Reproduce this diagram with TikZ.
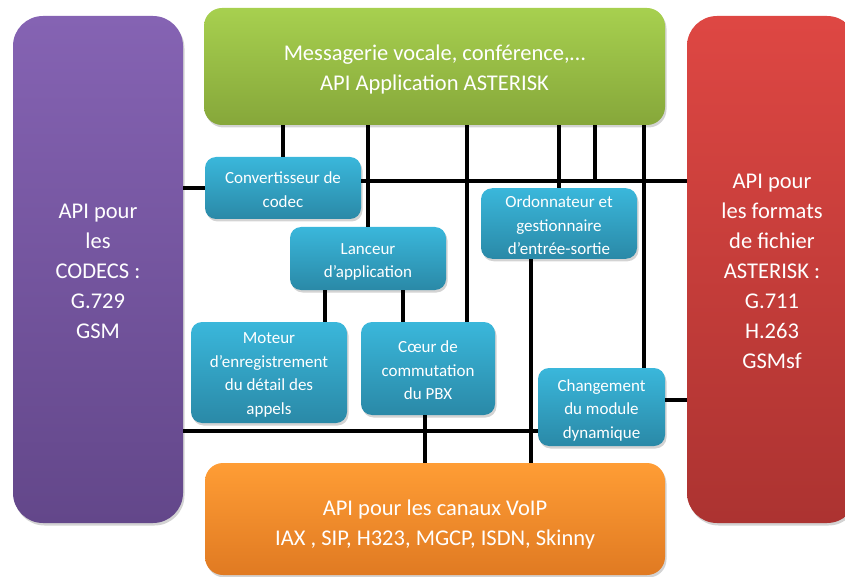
\documentclass[tikz,border=0pt]{standalone}
\usepackage{fontspec}
\setmainfont{Carlito}
\usetikzlibrary{shadows}
\definecolor{violetT}{HTML}{8563B3}
\definecolor{violetB}{HTML}{63478A}
\definecolor{vertT}{HTML}{A7D04F}
\definecolor{vertB}{HTML}{86A73A}
\definecolor{rougeT}{HTML}{DE4743}
\definecolor{rougeB}{HTML}{AC3331}
\definecolor{orangeT}{HTML}{FF9D35}
\definecolor{orangeB}{HTML}{E07A22}
\definecolor{cyanT}{HTML}{3AB7DB}
\definecolor{cyanB}{HTML}{2A89A7}
% centred block of lines, lowered by #1 without changing its box size
\newcommand\lines[2][-3pt]{%
  \def\linesbody{\begin{tabular}{@{}c@{}}#2\end{tabular}}%
  \vphantom{\linesbody}\smash{\raisebox{#1}{\linesbody}}}
\begin{document}
\begin{tikzpicture}[x=1pt,y=-1pt,
  shade/.style={drop shadow={shadow xshift=1.5pt,shadow yshift=-2.5pt,opacity=0.35}},
  panel/.style={shade,text=white,inner sep=0pt,
    font=\fontsize{22.5}{30}\selectfont},
  unit/.style={shade,rounded corners=11pt,top color=cyanT,bottom color=cyanB,
    text=white,inner sep=0pt,
    font=\fontsize{17}{23.5}\selectfont},
  wire/.style={line width=3.8pt,black}]
\useasboundingbox (0,0) rectangle (845,577);

% large API panels
\node[panel,rounded corners=18pt,top color=vertT,bottom color=vertB,
  minimum width=461pt,minimum height=117pt] (app) at (434.5,66.5)
  {\lines{Messagerie vocale, conférence,…\\API Application ASTERISK}};
\node[panel,rounded corners=30pt,top color=violetT,bottom color=violetB,
  minimum width=170pt,minimum height=507pt] (codecs) at (98,269.5)
  {\lines{API pour\\les\\CODECS :\\G.729\\GSM}};
\node[panel,rounded corners=30pt,top color=rougeT,bottom color=rougeB,
  minimum width=170pt,minimum height=507pt] (formats) at (772,269.5)
  {\lines{API pour\\les formats\\de fichier\\ASTERISK :\\G.711\\H.263\\GSMsf}};
\node[panel,rounded corners=18pt,top color=orangeT,bottom color=orangeB,
  minimum width=460pt,minimum height=112pt] (voip) at (435,519)
  {\lines[-5.5pt]{API pour les canaux VoIP\\IAX , SIP, H323, MGCP, ISDN, Skinny}};

% core modules
\node[unit,minimum width=156pt,minimum height=62pt] (conv) at (283,188)
  {\lines{Convertisseur de\\codec}};
\node[unit,minimum width=156pt,minimum height=63pt] (lanceur) at (368,258.5)
  {\lines{Lanceur\\d’application}};
\node[unit,minimum width=156pt,minimum height=69pt] (ordo) at (559,223.5)
  {\lines{Ordonnateur et\\gestionnaire\\d’entrée-sortie}};
\node[unit,minimum width=156pt,minimum height=101pt] (moteur) at (269,372.5)
  {\lines[-2pt]{Moteur\\d’enregistrement\\du détail des\\appels}};
\node[unit,minimum width=134pt,minimum height=93pt] (coeur) at (428,368.5)
  {\lines{Cœur de\\commutation\\du PBX}};
\node[unit,minimum width=127pt,minimum height=78pt] (chg) at (601.5,407)
  {\lines{Changement\\du module\\dynamique}};

\coordinate (tap) at (595,181);

% horizontal links
\draw[wire] (codecs.east |- conv.west) -- (conv.west);
\draw[wire] (conv.east |- tap) -- (formats.west |- tap);
\draw[wire] (codecs.east |- 0,431) -- (chg.west |- 0,431);
\draw[wire] (chg.east |- 0,400) -- (formats.west |- 0,400);

% vertical links from the application layer
\draw[wire] (283,0 |- app.south) -- (283,0 |- conv.north);
\draw[wire] (368,0 |- app.south) -- (368,0 |- lanceur.north);
\draw[wire] (467,0 |- app.south) -- (467,0 |- coeur.north);
\draw[wire] (559,0 |- app.south) -- (559,0 |- ordo.north);
\draw[wire] (tap |- app.south) -- (tap);
\draw[wire] (644,0 |- app.south) -- (644,0 |- chg.north);

% vertical links between modules and to the channel layer
\draw[wire] (325,0 |- lanceur.south) -- (325,0 |- moteur.north);
\draw[wire] (403,0 |- lanceur.south) -- (403,0 |- coeur.north);
\draw[wire] (531,0 |- ordo.south) -- (531,0 |- voip.north);
\draw[wire] (425,0 |- coeur.south) -- (425,0 |- voip.north);
\end{tikzpicture}
\end{document}
